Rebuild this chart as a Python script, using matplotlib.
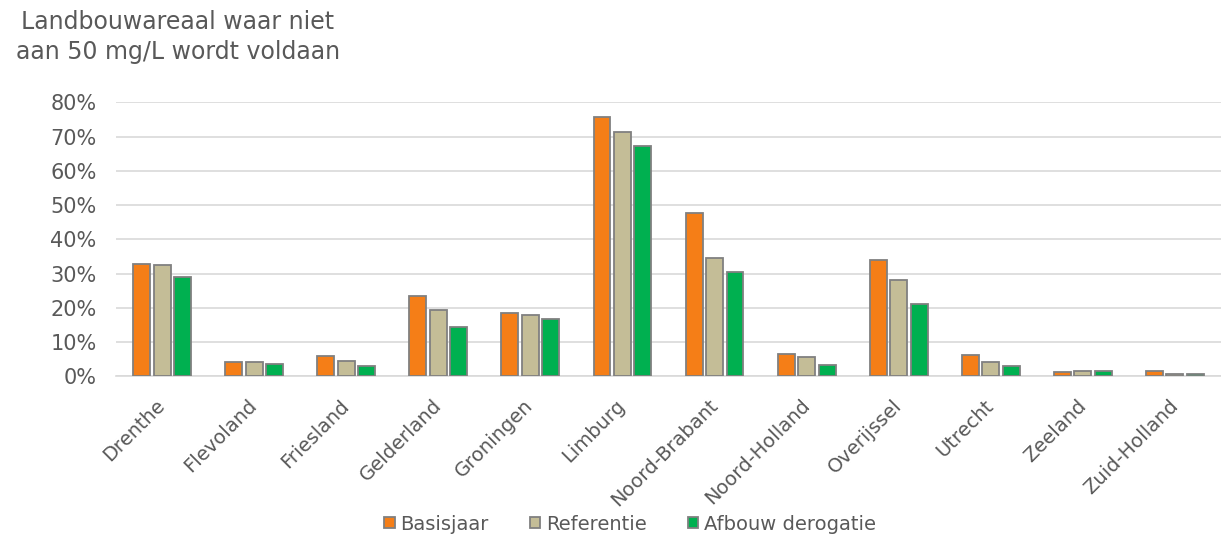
import numpy as np
import matplotlib
matplotlib.use('Agg')
import matplotlib.pyplot as plt
from matplotlib.ticker import PercentFormatter

provincies = ['Drenthe', 'Flevoland', 'Friesland', 'Gelderland', 'Groningen',
              'Limburg', 'Noord-Brabant', 'Noord-Holland', 'Overijssel',
              'Utrecht', 'Zeeland', 'Zuid-Holland']
basisjaar = [0.328, 0.041, 0.060, 0.234, 0.185, 0.757, 0.477, 0.065, 0.339, 0.063, 0.012, 0.014]
referentie = [0.326, 0.042, 0.046, 0.194, 0.179, 0.713, 0.346, 0.057, 0.282, 0.043, 0.015, 0.006]
afbouw = [0.291, 0.036, 0.030, 0.144, 0.168, 0.673, 0.304, 0.033, 0.212, 0.030, 0.015, 0.007]
reeksen = ['Basisjaar', 'Referentie', 'Afbouw derogatie']
kleuren = ['#F57E17', '#C4BD97', '#00B050']

tekst = '#595959'
plt.rcParams['font.family'] = ['DejaVu Sans']

fig = plt.figure(figsize=(12.21, 5.36), dpi=100)
ax = fig.add_axes([0.095, 0.298, 0.905, 0.511])

x = np.arange(len(provincies))
breedte = 0.184
stap = 0.222
for i, (waarden, kleur, naam) in enumerate(zip([basisjaar, referentie, afbouw], kleuren, reeksen)):
    ax.bar(x + (i - 1) * stap, waarden, width=breedte, color=kleur,
           edgecolor='#808080', linewidth=1.3, label=naam, zorder=3)

ax.set_xlim(-0.5, len(provincies) - 0.5)
ax.set_ylim(0, 0.8)
ax.set_yticks(np.arange(0, 0.81, 0.1))
ax.yaxis.set_major_formatter(PercentFormatter(1.0, decimals=0))
ax.grid(axis='y', color='#d9d9d9', linewidth=1.2, zorder=0)
for kant in ['top', 'right', 'left']:
    ax.spines[kant].set_visible(False)
ax.spines['bottom'].set_color('#d9d9d9')
ax.spines['bottom'].set_linewidth(1.2)
ax.tick_params(axis='both', length=0, colors=tekst)
ax.tick_params(axis='y', labelsize=15, pad=14)
ax.tick_params(axis='x', labelsize=14, pad=19)
ax.set_xticks(x)
ax.set_xticklabels(provincies, rotation=45, ha='right', va='center', rotation_mode='anchor')

fig.text(178 / 1221, 1 - 37 / 536, 'Landbouwareaal waar niet\naan 50 mg/L wordt voldaan',
         ha='center', va='center', multialignment='center', fontsize=17,
         color=tekst, linespacing=1.3)

leg = fig.legend(loc='center', bbox_to_anchor=(630 / 1221, 1 - 524 / 536), ncol=3,
                 frameon=False, fontsize=14, handlelength=0.55, handleheight=0.55,
                 handletextpad=0.3, columnspacing=2.1, borderaxespad=0)
for t_ in leg.get_texts():
    t_.set_color(tekst)

fig.savefig('out.png', dpi=100)
